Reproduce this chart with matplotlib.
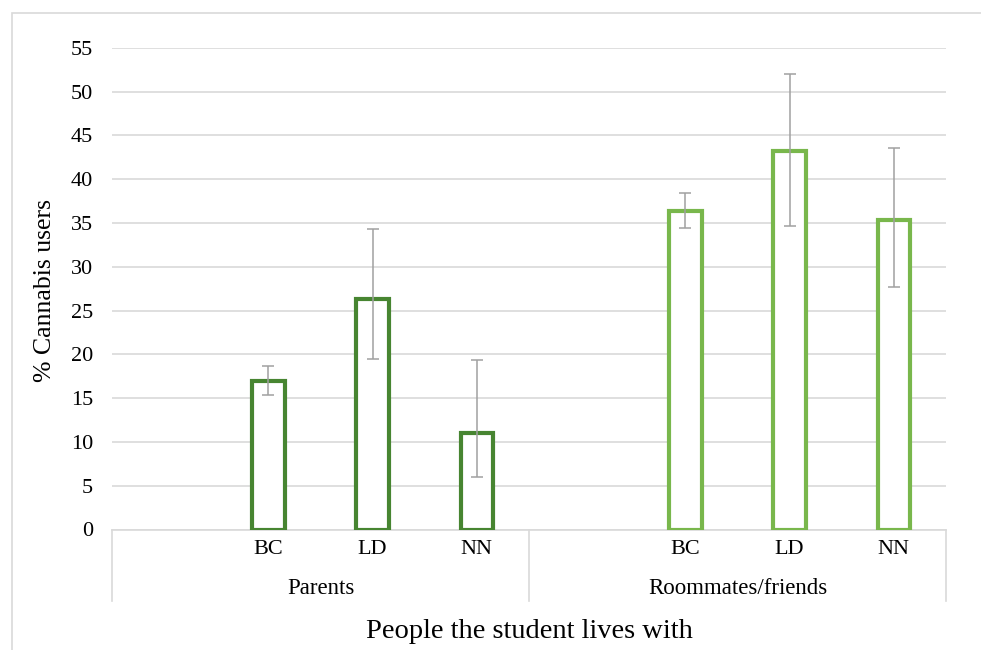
import matplotlib
matplotlib.use("Agg")
import matplotlib.pyplot as plt
from matplotlib.patches import Rectangle
from matplotlib.lines import Line2D

plt.rcParams['font.family'] = ['Liberation Serif', 'DejaVu Serif']

# Data: share of cannabis users by living situation and region
groups = ["Parents", "Roommates/friends"]
regions = ["BC", "LD", "NN"]
parents_pct = [16.9, 26.3, 11.0]
parents_low = [15.3, 19.5, 6.0]
parents_high = [18.7, 34.3, 19.3]
roommates_pct = [36.4, 43.2, 35.3]
roommates_low = [34.4, 34.7, 27.7]
roommates_high = [38.4, 52.0, 43.6]
y_ticks = list(range(0, 60, 5))

dark_green = "#478531"
light_green = "#79B74C"
grid_col = "#D9D9D9"
err_col = "#A0A0A0"

fig = plt.figure(figsize=(9.81, 6.5), dpi=100)
W, H = 981, 650

# chart-area frame
fig.patches.append(Rectangle((12 / W, -0.1), 1.2, (H - 13) / H + 0.1,
                             transform=fig.transFigure, fill=False,
                             edgecolor=grid_col, linewidth=1.2))

ax = fig.add_axes([112 / W, (H - 529.5) / H, (946 - 112) / W, (529.5 - 47.7) / H])

slots_per_group = len(regions) + 1
series = [(parents_pct, parents_low, parents_high, dark_green),
          (roommates_pct, roommates_low, roommates_high, light_green)]
bar_w = 0.31
for g, (vals, lo, hi, col) in enumerate(series):
    xs = [g * slots_per_group + 1 + i for i in range(len(regions))]
    ax.bar(xs, vals, width=bar_w, facecolor="white", edgecolor=col,
           linewidth=3, zorder=3)
    yerr = [[v - l for v, l in zip(vals, lo)], [h - v for v, h in zip(vals, hi)]]
    ax.errorbar(xs, vals, yerr=yerr, fmt="none", ecolor=err_col,
                elinewidth=1.1, capsize=4, capthick=1.1, zorder=4)

n_slots = slots_per_group * len(groups)
ax.set_xlim(-0.5, n_slots - 0.5)
ax.set_ylim(0, 55)
ax.set_yticks(y_ticks)
ax.tick_params(axis="y", length=0, pad=13.5, labelsize=16)
ax.set_xticks([])
ax.grid(axis="y", color=grid_col, linewidth=1.2, zorder=0)
for s in ["top", "right", "left"]:
    ax.spines[s].set_visible(False)
ax.spines["bottom"].set_color(grid_col)
ax.spines["bottom"].set_linewidth(1.2)

# hierarchical category axis
trans = ax.get_xaxis_transform()
span = 529.5 - 47.7
bottom_frac = -(601 - 529.5) / span
for b in range(len(groups) + 1):
    xb = b * slots_per_group - 0.5
    ax.add_line(Line2D([xb, xb], [0, bottom_frac], transform=trans,
                       color=grid_col, linewidth=1.2, clip_on=False))
for g, name in enumerate(groups):
    for i, r in enumerate(regions):
        ax.text(g * slots_per_group + 1 + i, -(550 - 529.5) / span, r,
                transform=trans, ha="center", va="center", fontsize=16)
    centre = g * slots_per_group + (slots_per_group - 1) / 2
    ax.text(centre, -(588 - 529.5) / span, name,
            transform=trans, ha="center", va="center", fontsize=16.5)

fig.text(529 / W, 1 - 632 / H, "People the student lives with",
         ha="center", va="center", fontsize=20.5)
fig.text(45 / W, 1 - 291 / H, "% Cannabis users", rotation=90,
         ha="center", va="center", fontsize=18.5)

fig.savefig("out.png", dpi=100)
